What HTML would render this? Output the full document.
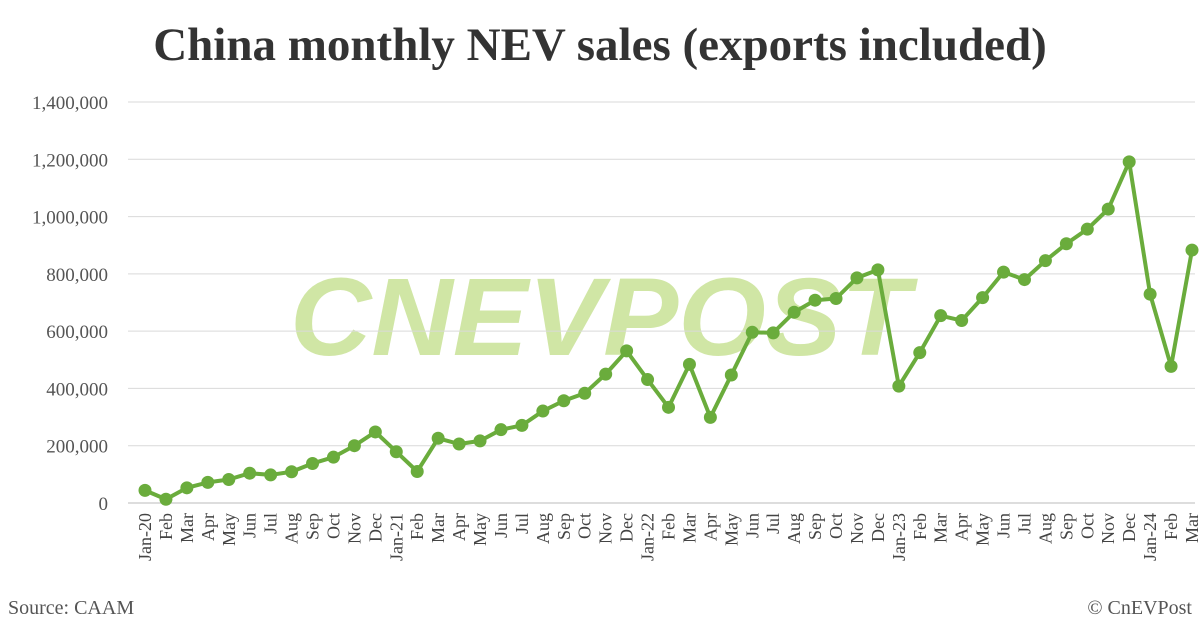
<!DOCTYPE html>
<html><head><meta charset="utf-8"><style>
body{margin:0;background:#fff;}
svg{display:block;font-family:"Liberation Serif",serif;}
</style></head><body>
<svg id="c" width="1200" height="628">
<rect width="1200" height="628" fill="#fff"/>
<text x="600" y="60" text-anchor="middle" font-size="47" font-weight="bold" fill="#333">China monthly NEV sales (exports included)</text>
<text x="600" y="355" text-anchor="middle" font-family="Liberation Sans,sans-serif" font-size="110" font-weight="bold" font-style="italic" fill="#c5e08f" opacity="0.8" textLength="620" lengthAdjust="spacingAndGlyphs">CNEVPOST</text>
<g id="grid"></g><g id="ylab"></g><g id="xlab"></g><g id="series"></g>
<text x="8" y="614" font-size="20" fill="#555">Source: CAAM</text>
<text x="1192" y="614" text-anchor="end" font-size="20" fill="#555">© CnEVPost</text>
</svg>
<script>
const months=["Jan-20","Feb","Mar","Apr","May","Jun","Jul","Aug","Sep","Oct","Nov","Dec","Jan-21","Feb","Mar","Apr","May","Jun","Jul","Aug","Sep","Oct","Nov","Dec","Jan-22","Feb","Mar","Apr","May","Jun","Jul","Aug","Sep","Oct","Nov","Dec","Jan-23","Feb","Mar","Apr","May","Jun","Jul","Aug","Sep","Oct","Nov","Dec","Jan-24","Feb","Mar"];
const sales=[44000,13000,53000,72000,82000,104000,98000,109000,138000,160000,200000,248000,179000,110000,226000,206000,217000,256000,271000,321000,357000,383000,450000,531000,431000,334000,484000,299000,447000,596000,594000,666000,708000,714000,786000,814000,408000,525000,654000,637000,717000,806000,780000,846000,905000,956000,1026000,1191000,729000,477000,883000];
const yTicks=[0,200000,400000,600000,800000,1000000,1200000,1400000];
const NS="http://www.w3.org/2000/svg";
const x0=145,x1=1192,y0=503,y1=102,ymax=1400000;
const xs=i=>x0+i*(x1-x0)/(months.length-1);
const ys=v=>y0-v/ymax*(y0-y1);
function mk(t,a,p){const e=document.createElementNS(NS,t);for(const k in a)e.setAttribute(k,a[k]);p.appendChild(e);return e;}
const g=document.getElementById('grid'),yl=document.getElementById('ylab'),xl=document.getElementById('xlab'),s=document.getElementById('series');
yTicks.forEach(v=>{
 const l=mk('line',{x1:128,x2:1195,y1:ys(v),y2:ys(v),stroke:v===0?'#bbb':'#d9d9d9','stroke-width':1},g);
 
 
 const t=mk('text',{x:108,y:ys(v)+7,'text-anchor':'end','font-size':19,fill:'#555'},yl);
 t.textContent=v.toLocaleString('en-US');
 
 
});
months.forEach((m,i)=>{
 const t=mk('text',{transform:`translate(${xs(i)+6},513) rotate(-90)`,'text-anchor':'end','font-size':18,fill:'#444'},xl);
 t.textContent=m;
 
 
});
const pl=mk('polyline',{points:sales.map((v,i)=>xs(i)+','+ys(v)).join(' '),fill:'none',stroke:'#6aac3c','stroke-width':4,'stroke-linejoin':'round'},s);


sales.forEach((v,i)=>{
 const c=mk('circle',{cx:xs(i),cy:ys(v),r:6.5,fill:'#6aac3c'},s);
 
 
});
</script>
</body></html>
